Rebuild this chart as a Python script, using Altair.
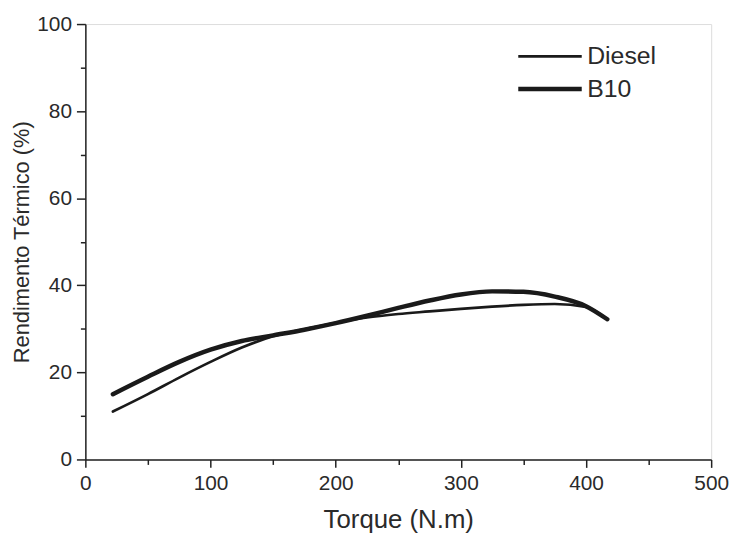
import altair as alt
import pandas as pd

torque = [22, 50, 75, 100, 125, 150, 175, 200, 225, 250, 275, 300, 325, 350, 375, 400, 417]
diesel = [11.0, 15.0, 18.8, 22.4, 25.7, 28.3, 29.9, 31.4, 32.6, 33.4, 34.0, 34.6, 35.1, 35.5, 35.7, 35.0, 32.2]
b10 = [15.0, 19.0, 22.4, 25.2, 27.2, 28.5, 29.8, 31.3, 33.0, 34.8, 36.5, 37.9, 38.6, 38.5, 37.4, 35.2, 32.2]
series = ["Diesel", "B10"]

rows = []
for t, d, b in zip(torque, diesel, b10):
    rows.append({"Torque": t, "Rend": d, "Serie": "Diesel"})
    rows.append({"Torque": t, "Rend": b, "Serie": "B10"})
df = pd.DataFrame(rows)

FONT = "Liberation Sans"
TXT = "#2a2a2a"

x_ticks = list(range(0, 501, 50))
y_ticks = list(range(0, 101, 10))

legend_opts = dict(title=None, orient="none", legendX=456, legendY=20,
                   symbolType="M-4,0H4", symbolSize=256,
                   labelFontSize=25, labelFont=FONT, labelColor=TXT,
                   rowPadding=7, labelOffset=25)

chart = alt.Chart(df).mark_line(interpolate="monotone", strokeCap="round").encode(
    x=alt.X("Torque:Q", scale=alt.Scale(domain=[0, 500], nice=False),
            axis=alt.Axis(values=x_ticks, title="Torque (N.m)",
                          labelExpr="datum.value % 100 === 0 ? datum.label : ''",
                          tickSize={"condition": {"test": "datum.value % 100 === 0", "value": 8}, "value": 5},
                          grid=False, domainColor="#222", tickColor="#222", domainWidth=1.5, tickWidth=1.5,
                          labelFontSize=21, titleFontSize=26, labelColor=TXT, titleColor=TXT,
                          labelFont=FONT, titleFont=FONT, titleFontWeight="normal",
                          labelPadding=5, titlePadding=14, labelFlush=False)),
    y=alt.Y("Rend:Q", scale=alt.Scale(domain=[0, 100], nice=False),
            axis=alt.Axis(values=y_ticks, title="Rendimento Térmico (%)",
                          labelExpr="datum.value % 20 === 0 ? datum.label : ''",
                          tickSize={"condition": {"test": "datum.value % 20 === 0", "value": 9}, "value": 5},
                          grid=False, domainColor="#222", tickColor="#222", domainWidth=1.5, tickWidth=1.5,
                          labelFontSize=21, titleFontSize=22, labelColor=TXT, titleColor=TXT,
                          labelFont=FONT, titleFont=FONT, titleFontWeight="normal",
                          labelPadding=5, titlePadding=3, labelFlush=False)),
    color=alt.Color("Serie:N", scale=alt.Scale(domain=series, range=["#1a1a1a", "#1a1a1a"]),
                    legend=alt.Legend(**legend_opts)),
    strokeWidth=alt.StrokeWidth("Serie:N", scale=alt.Scale(domain=series, range=[2.7, 4.5]),
                                legend=alt.Legend(**legend_opts)),
).properties(
    width=631, height=439,
    autosize=alt.AutoSizeParams(type="none"),
    padding={"left": 78, "top": 14, "right": 20, "bottom": 75},
).configure_view(stroke="#222", strokeWidth=1.5).configure(background="white")

chart.save("out.html", embed_options={"renderer": "svg", "actions": False})
